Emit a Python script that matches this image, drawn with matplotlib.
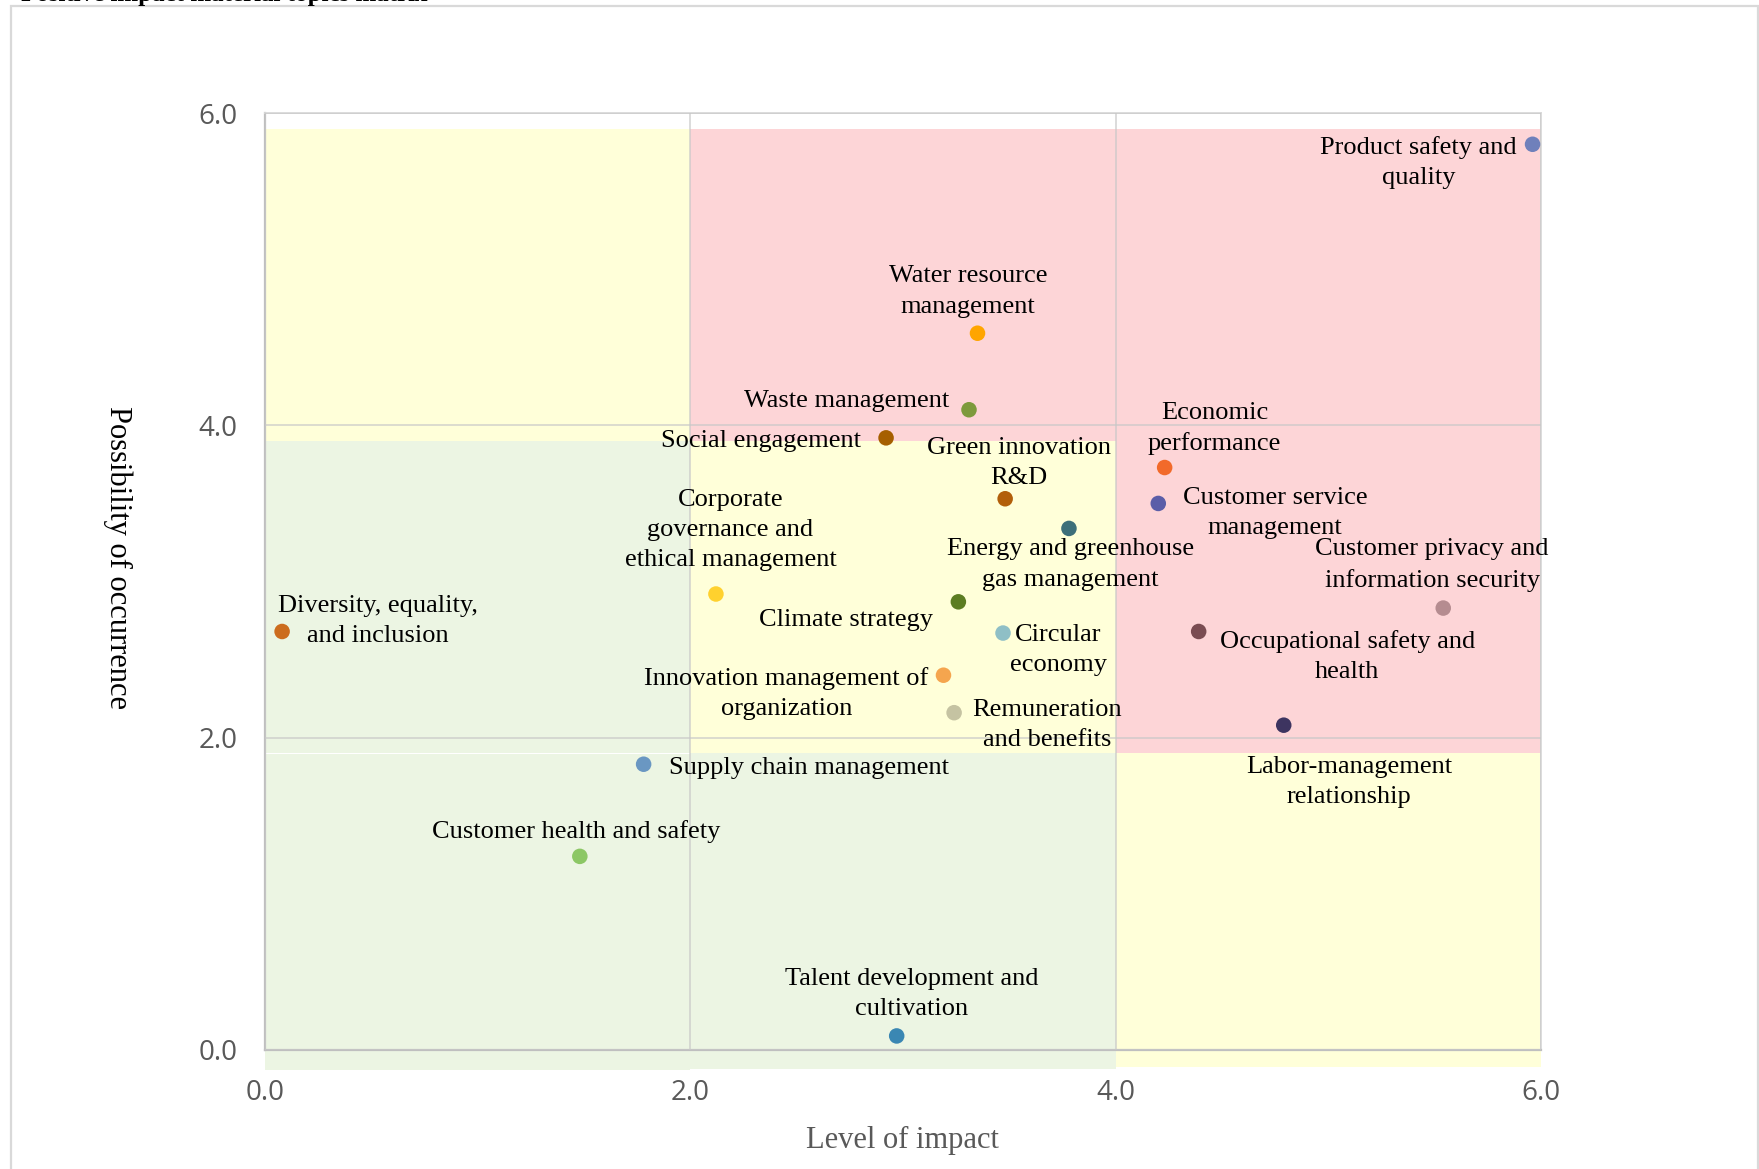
import matplotlib
matplotlib.use("Agg")
import matplotlib.pyplot as plt
from matplotlib.patches import Rectangle

# material topics: level of impact (x) vs possibility of occurrence (y)
topics = [
    "Product safety and\nquality",
    "Water resource\nmanagement",
    "Waste management",
    "Social engagement",
    "Green innovation\nR&D",
    "Economic\nperformance",
    "Customer service\nmanagement",
    "Energy and greenhouse\ngas management",
    "Corporate\ngovernance and\nethical management",
    "Climate strategy",
    "Diversity, equality,\nand inclusion",
    "Circular\neconomy",
    "Customer privacy and\ninformation security",
    "Occupational safety and\nhealth",
    "Innovation management of\norganization",
    "Remuneration\nand benefits",
    "Labor-management\nrelationship",
    "Supply chain management",
    "Customer health and safety",
    "Talent development and\ncultivation",
]
impact = [5.96, 3.35, 3.31, 2.92, 3.48, 4.23, 4.20, 3.78, 2.12, 3.26,
          0.08, 3.47, 5.54, 4.39, 3.19, 3.24, 4.79, 1.78, 1.48, 2.97]
occurrence = [5.80, 4.59, 4.10, 3.92, 3.53, 3.73, 3.50, 3.34, 2.92, 2.87,
              2.68, 2.67, 2.83, 2.68, 2.40, 2.16, 2.08, 1.83, 1.24, 0.09]

colors = ["#6F80BB", "#FFA500", "#7D9A3C", "#A65F00", "#B25F0A", "#F26A2A",
          "#5B5EA8", "#3D6F7A", "#FFD12E", "#5C7D22", "#CC6C1E", "#8FBFC6",
          "#B58C90", "#7A4C52", "#F5A54E", "#C5C3A2", "#3D3460", "#6A97C2",
          "#8CC765", "#3A87B3"]

# label placement: offset in points, horizontal alignment
label_pos = [
    ((-82, -13), "center"), ((-7, 30), "center"), ((-14, 6), "right"),
    ((-18, -2), "right"), ((10, 26), "center"), ((36, 28), "center"),
    ((84, -7), "center"), ((1, -26), "center"), ((10.5, 46), "center"),
    ((-18.6, -13), "right"), ((69, 7.7), "center"), ((40, -12), "center"),
    ((-8, 31), "center"), ((107, -18), "center"), ((-113, -13), "center"),
    ((67, -9), "center"), ((47, -41), "center"), ((18, -3), "left"),
    ((-2.4, 18), "center"), ((11, 30), "center"),
]

# risk zones (x0, x1, y0, y1, colour)
zones = [
    (0, 2, 3.9, 5.9, "#FFFFD9"),
    (2, 6, 3.9, 5.9, "#FDD5D7"),
    (4, 6, 1.9, 3.9, "#FDD5D7"),
    (2, 4, 1.9, 3.9, "#FFFFD9"),
    (0, 2, 1.905, 3.9, "#ECF5E3"),
    (0, 2, -0.13, 1.895, "#ECF5E3"),
    (2, 4, -0.12, 1.9, "#ECF5E3"),
    (4, 6, -0.11, 1.9, "#FFFFD9"),
]

fig = plt.figure(figsize=(17.59, 11.69), dpi=100)
ax = fig.add_axes([0.1507, 0.1018, 0.7254, 0.8015])

for x0, x1, y0, y1, c in zones:
    ax.add_patch(Rectangle((x0, y0), x1 - x0, y1 - y0, facecolor=c,
                           edgecolor="none", zorder=0, clip_on=False))

ax.set_xlim(0, 6)
ax.set_ylim(0, 6)
ax.set_xticks([0, 2, 4, 6])
ax.set_yticks([0, 2, 4, 6])
ax.set_xticklabels(["0.0", "2.0", "4.0", "6.0"])
ax.set_yticklabels(["0.0", "2.0", "4.0", "6.0"])
for lab in ax.get_xticklabels() + ax.get_yticklabels():
    lab.set_fontfamily("Open Sans")
    lab.set_fontsize(20)
    lab.set_color("#595959")
ax.tick_params(axis="both", length=0)
ax.tick_params(axis="x", pad=21)
ax.tick_params(axis="y", pad=20)
ax.set_axisbelow(False)
ax.grid(True, color="#C8C8C8", alpha=0.7, linewidth=1.3, zorder=1)
ax.set_facecolor("none")
for side in ["top", "right"]:
    ax.spines[side].set_color("#D9D9D9")
    ax.spines[side].set_linewidth(1.3)
for side in ["left", "bottom"]:
    ax.spines[side].set_color("#BFBFBF")
    ax.spines[side].set_linewidth(1.6)

ax.scatter(impact, occurrence, s=125, c=colors, zorder=3, clip_on=False,
           edgecolors="none")

for name, x, y, (off, ha) in zip(topics, impact, occurrence, label_pos):
    ax.annotate(name, (x, y), xytext=off, textcoords="offset points",
                ha=ha, va="center", multialignment="center",
                fontsize=19, family="Liberation Serif", color="black",
                linespacing=1.48, zorder=4, annotation_clip=False)

fig.text(0.5128, 0.0245, "Level of impact", ha="center", va="center",
         fontsize=22, family="Liberation Serif", color="#595959")
fig.text(0.067, 0.5227, "Possibility of occurrence", ha="center",
         va="center", rotation=-90, fontsize=22, family="Liberation Serif",
         color="black")

# heading of the page, cut off at the top edge as in the source
fig.text(0.012, 1.0 - 1.0 / 1169, "Positive impact material topics matrix",
         ha="left", va="baseline", fontsize=18, fontweight="bold",
         family="Liberation Serif", color="black")

# outer chart frame
fig.add_artist(Rectangle((11 / 1759, -0.05), (1758 - 11) / 1759,
                         1.05 - 6 / 1169, transform=fig.transFigure,
                         facecolor="none", edgecolor="#D9D9D9",
                         linewidth=1.6))

fig.savefig("out.png", dpi=100)
